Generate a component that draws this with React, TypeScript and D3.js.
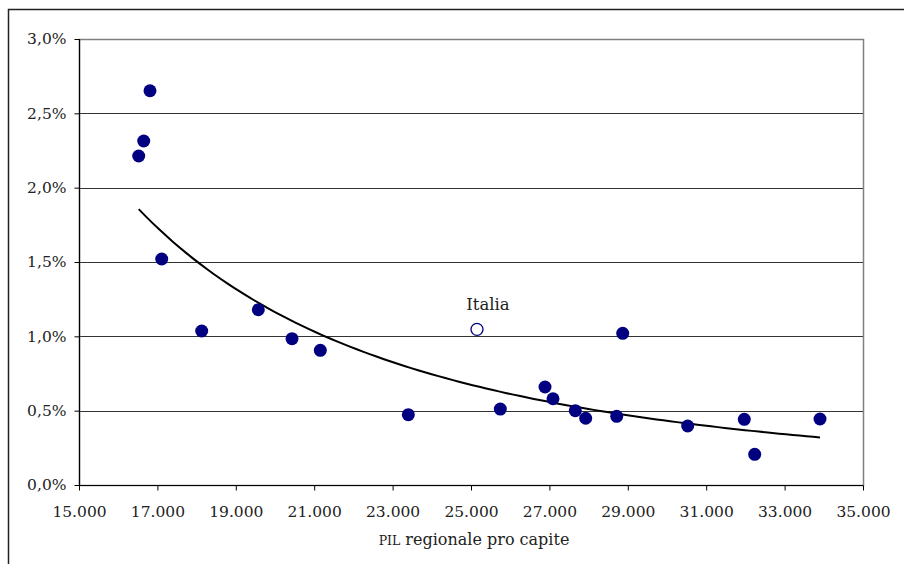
import React, { useRef, useEffect } from "react";
import * as d3 from "d3";

// PIL regionale pro capite (euro) e valore percentuale per regione
const pil = [16523, 16651, 16811, 17110, 18130, 19574, 20434, 21156, 23401, 25748,
  26888, 27092, 27661, 27926, 28870, 28717, 30528, 31972, 32237, 33903];
const quota = [2.213, 2.314, 2.652, 1.52, 1.036, 1.179, 0.984, 0.906, 0.473, 0.511,
  0.659, 0.58, 0.5, 0.449, 1.02, 0.462, 0.397, 0.442, 0.206, 0.444];
const italia = { label: "Italia", pil: 25153, quota: 1.047 };

const xTicks = [15000, 17000, 19000, 21000, 23000, 25000, 27000, 29000, 31000, 33000, 35000];
const yTicks = [0, 0.5, 1, 1.5, 2, 2.5, 3];

const W = 904, H = 564;
const m = { left: 79, top: 39, right: 863, bottom: 485 };
const FONT = "'DejaVu Serif', serif";

function App() {
  const svgRef = useRef<SVGSVGElement>(null);

  useEffect(() => {
    const svg = d3.select(svgRef.current);
    svg.selectAll("*").remove();

    const x = d3.scaleLinear().domain([15000, 35000]).range([m.left, m.right]);
    const y = d3.scaleLinear().domain([0, 3]).range([m.bottom, m.top]);

    // cornice esterna
    svg.append("path")
      .attr("d", `M8.5,${H} V9.5 H${W}`)
      .attr("fill", "none").attr("stroke", "#222").attr("stroke-width", 1.5);

    // griglia
    svg.append("g").selectAll("line").data(yTicks.filter(t => t > 0 && t < 3)).enter()
      .append("line")
      .attr("x1", m.left).attr("x2", m.right)
      .attr("y1", d => Math.round(y(d)) + 0.5).attr("y2", d => Math.round(y(d)) + 0.5)
      .attr("stroke", "#333");

    // bordo area
    svg.append("rect")
      .attr("x", m.left + 0.5).attr("y", m.top + 0.5)
      .attr("width", m.right - m.left).attr("height", m.bottom - m.top)
      .attr("fill", "none").attr("stroke", "#808080").attr("stroke-width", 1.5);

    // assi
    const yAxis = d3.axisLeft(y).tickValues(yTicks).tickSize(5).tickPadding(8)
      .tickFormat(d => d3.format(".1f")(d as number).replace(".", ",") + "%");
    const gy = svg.append("g").attr("transform", `translate(${m.left + 0.5},0)`).call(yAxis);
    const xAxis = d3.axisBottom(x).tickValues(xTicks).tickSize(5).tickPadding(15)
      .tickFormat(d => d3.format(",")(d as number).replace(/,/g, "."));
    const gx = svg.append("g").attr("transform", `translate(0,${m.bottom + 0.5})`).call(xAxis);
    [gx, gy].forEach(g => {
      g.select(".domain").attr("stroke", "#000").attr("stroke-width", 1.2);
      g.selectAll(".tick line").attr("stroke", "#000");
      g.selectAll("text").attr("font-family", FONT).attr("font-size", 15.5).attr("fill", "#222");
    });
    gx.select(".domain").attr("d", `M${m.left},0H${m.right}`);
    gy.select(".domain").attr("d", `M0,${m.bottom}V${m.top}`);

    // linea di tendenza (potenza, minimi quadrati su log-log)
    const lx = pil.map(Math.log), ly = quota.map(Math.log);
    const mx = d3.mean(lx)!, my = d3.mean(ly)!;
    const b = d3.sum(lx, (v, i) => (v - mx) * (ly[i] - my)) / d3.sum(lx, v => (v - mx) ** 2);
    const a = Math.exp(my - b * mx);
    const [x0, x1] = d3.extent(pil) as [number, number];
    const pts = d3.range(0, 101).map(i => x0 + (x1 - x0) * i / 100);
    svg.append("path")
      .attr("d", d3.line<number>().x(v => x(v)).y(v => y(a * Math.pow(v, b)))(pts)!)
      .attr("fill", "none").attr("stroke", "#000").attr("stroke-width", 2);

    // punti regionali
    svg.append("g").selectAll("circle").data(pil).enter()
      .append("circle")
      .attr("cx", d => x(d)).attr("cy", (d, i) => y(quota[i]))
      .attr("r", 6.5).attr("fill", "#000080");

    // Italia
    svg.append("circle")
      .attr("cx", x(italia.pil)).attr("cy", y(italia.quota))
      .attr("r", 6).attr("fill", "#fff").attr("stroke", "#000080").attr("stroke-width", 1.3);
    svg.append("text")
      .attr("x", x(italia.pil) + 11).attr("y", y(italia.quota) - 19)
      .attr("text-anchor", "middle").attr("font-family", FONT).attr("font-size", 16.5)
      .attr("fill", "#222").text(italia.label);

    // titolo asse x
    const t = svg.append("text")
      .attr("x", 474).attr("y", 545).attr("text-anchor", "middle")
      .attr("font-family", FONT).attr("font-size", 16).attr("fill", "#222");
    t.append("tspan").attr("font-size", 12.5).text("PIL");
    t.append("tspan").text(" regionale pro capite");
  }, []);

  return (
    <svg ref={svgRef} width={W} height={H}
      style={{ position: "absolute", left: 0, top: 0, display: "block", background: "#fff" }} />
  );
}

export default App;
